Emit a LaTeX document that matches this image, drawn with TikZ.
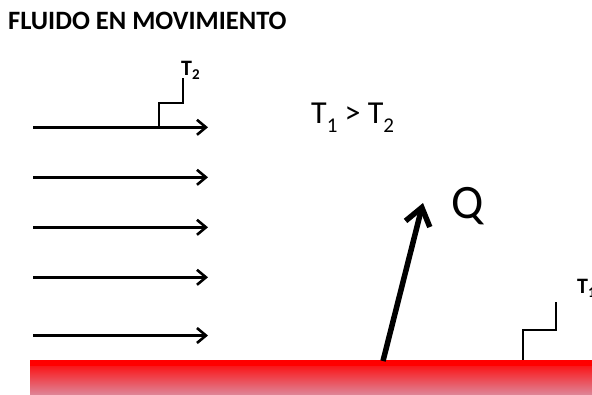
\documentclass[tikz,border=0pt]{standalone}
\usepackage{fontspec}
\setmainfont{Carlito}
\usetikzlibrary{arrows.meta}
\newcommand{\mysub}[3]{\raisebox{-#2}{\fontsize{#1}{#1}\selectfont #3}}
\begin{document}
\begin{tikzpicture}[x=1pt,y=-1pt,
  flow/.style={line width=2.6pt,-{Straight Barb[length=9pt,width=15pt]}},
  stepline/.style={line width=2pt},
  heat/.style={line width=5.5pt,-{Straight Barb[length=17pt,width=25pt]}},
  lbl/.style={inner sep=0pt,anchor=base west}]
\useasboundingbox (0,0) rectangle (592,394);
\clip (0,0) rectangle (592,394);
% title
\node[lbl,font=\fontsize{26.5}{26.5}\selectfont\bfseries] (title) at (8,29.5) {FLUIDO EN MOVIMIENTO};
% flow arrows
\foreach \i/\y in {1/127.3,2/177.3,3/227.3,4/277.3,5/335.5}{
  \coordinate (s\i) at (33,\y);
  \coordinate (e\i) at (208,\y);
  \draw[flow] (s\i) -- (e\i);
}
% T2 step
\coordinate (t2a) at (159,127.3);
\coordinate (t2b) at (159,103);
\coordinate (t2c) at (183,103);
\coordinate (t2d) at (183,78);
\draw[stepline] (t2a) -- (t2b) -- (t2c) -- (t2d);
\node[lbl,font=\fontsize{22}{22}\selectfont\bfseries] (T2) at (181,75) {T\mysub{15}{4pt}{2}};
% relation
\node[lbl,font=\fontsize{32}{32}\selectfont] (rel) at (311,123) {T\mysub{21}{9pt}{1} > T\mysub{21}{9pt}{2}};
% plate
\shade[top color=red, bottom color={rgb,255:red,219;green,146;blue,166}] (30,360) rectangle (600,398);
\fill[red] (30,360) rectangle (600,366);
% heat arrow
\coordinate (q0) at (383,361);
\coordinate (q1) at (423,203);
\draw[heat] (q0) -- (q1);
\node[lbl,font=\fontsize{48}{48}\selectfont] (Q) at (451,218) {Q};
% T1 step
\coordinate (t1a) at (523,360);
\coordinate (t1b) at (523,330);
\coordinate (t1c) at (556,330);
\coordinate (t1d) at (556,302);
\draw[stepline] (t1a) -- (t1b) -- (t1c) -- (t1d);
\node[lbl,font=\fontsize{22}{22}\selectfont\bfseries] (T1) at (577,293) {T\mysub{15}{4pt}{1}};
\end{tikzpicture}
\end{document}
